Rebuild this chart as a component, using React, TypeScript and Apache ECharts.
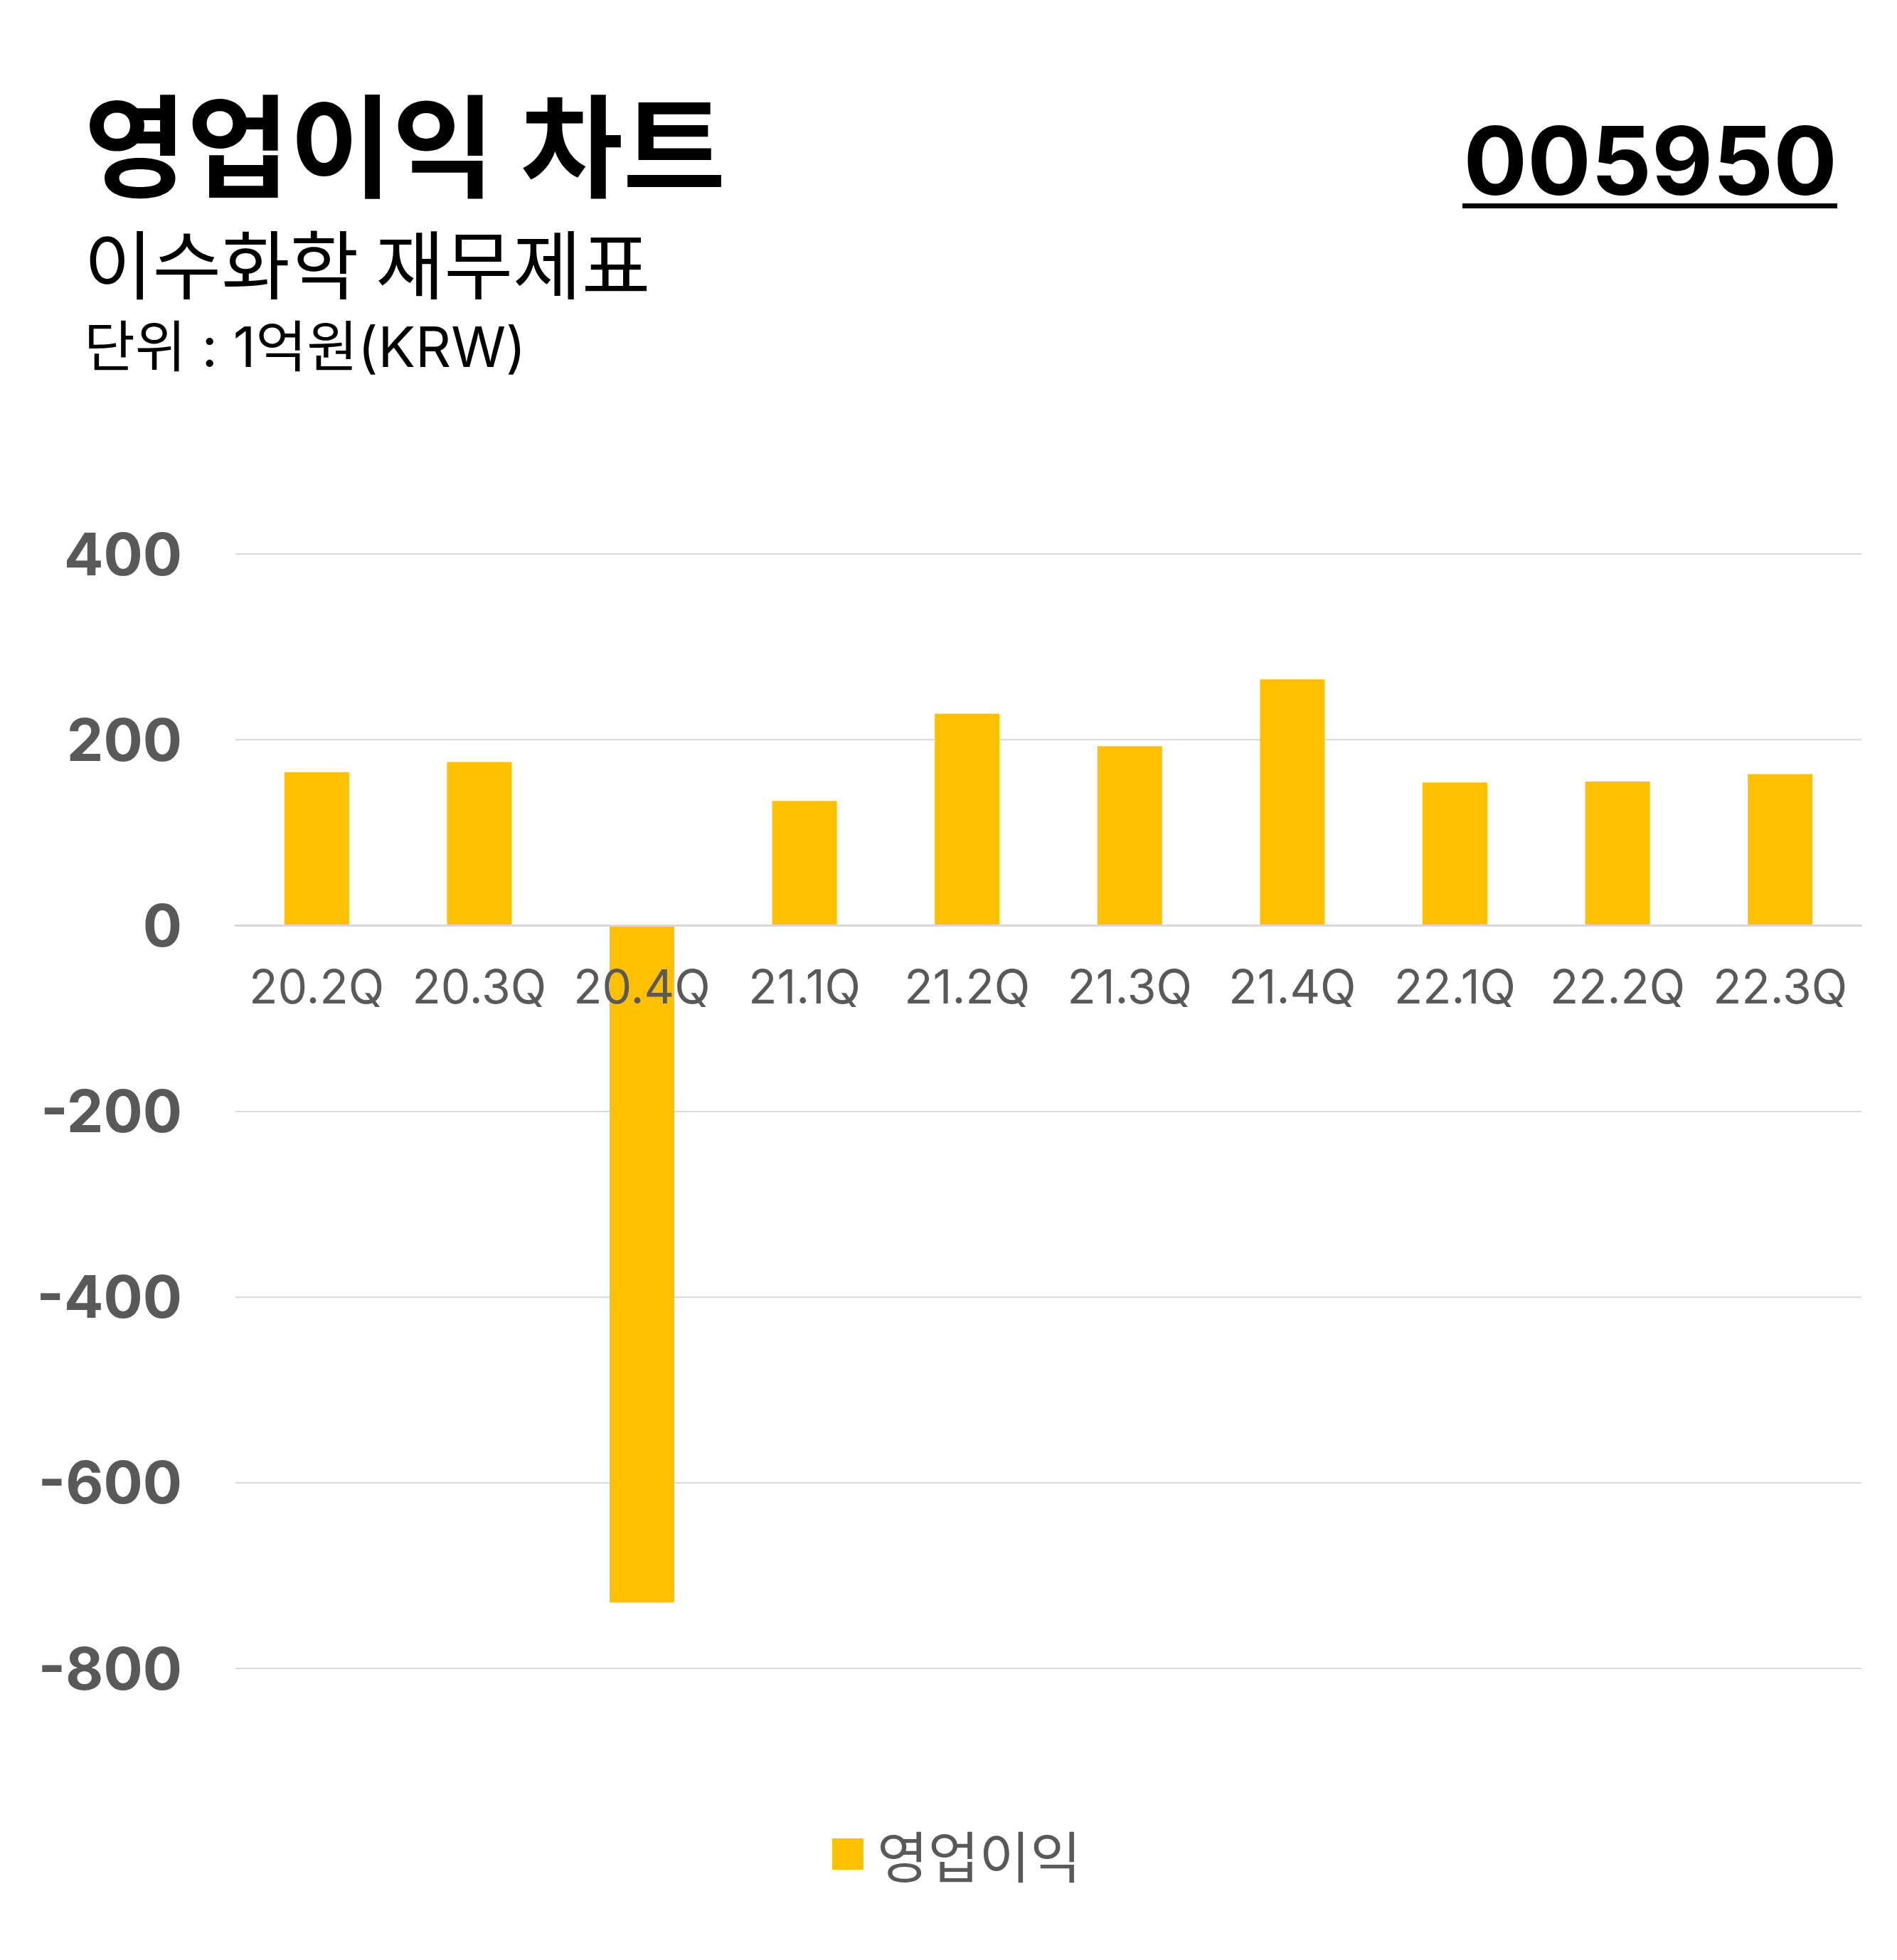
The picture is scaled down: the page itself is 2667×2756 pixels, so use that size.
import React, { useEffect, useRef } from "react";
import * as echarts from "echarts";

const categories = ["20.2Q", "20.3Q", "20.4Q", "21.1Q", "21.2Q", "21.3Q", "21.4Q", "22.1Q", "22.2Q", "22.3Q"];
const operatingProfit = [165, 176, -729, 134, 228, 193, 265, 154, 155, 163];
const seriesName = "영업이익";
const titleText = "영업이익 차트";
const subtitleText = "이수화학 재무제표";
const unitText = "단위 : 1억원(KRW)";
const codeText = "005950";
const yMin = -800;
const yMax = 400;
const yInterval = 200;

const W = 2667;
const H = 2756;
const GRID_TOP = 779;
const GRID_BOTTOM_Y = 2346;
const LATIN = "Inter, 'Noto Sans CJK KR', sans-serif";
const KR = "'Noto Sans CJK KR', sans-serif";

export default function App() {
  const ref = useRef<HTMLDivElement>(null);
  useEffect(() => {
    if (!ref.current) return;
    const chart = echarts.init(ref.current, undefined, { renderer: "svg" });
    const plotH = GRID_BOTTOM_Y - GRID_TOP;
    const zeroOffset = (plotH * (0 - yMin)) / (yMax - yMin);
    chart.setOption({
      animation: false,
      backgroundColor: "#ffffff",
      grid: { left: 331, right: 50, top: GRID_TOP, bottom: H - GRID_BOTTOM_Y, containLabel: false },
      legend: {
        data: [seriesName],
        left: 1165,
        top: 2563,
        icon: "rect",
        itemWidth: 44,
        itemHeight: 44,
        textStyle: { fontSize: 78, color: "#595959", fontFamily: KR, padding: [0, 0, 0, 14] },
      },
      xAxis: {
        type: "category",
        data: categories,
        position: "bottom",
        offset: -zeroOffset,
        z: 10,
        axisLine: { onZero: false, lineStyle: { color: "#d9d9d9", width: 3 } },
        axisTick: { show: false },
        axisLabel: { color: "#595959", fontSize: 66, fontFamily: LATIN, margin: 53, interval: 0 },
      },
      yAxis: {
        type: "value",
        min: yMin,
        max: yMax,
        interval: yInterval,
        axisLine: { show: false },
        axisTick: { show: false },
        axisLabel: { color: "#595959", fontSize: 82, fontWeight: "bold", fontFamily: LATIN, margin: 75 },
        splitLine: { lineStyle: { color: "#d9d9d9", width: 2 } },
      },
      series: [
        {
          name: seriesName,
          type: "bar",
          data: operatingProfit,
          barWidth: 91,
          itemStyle: { color: "#FFC000" },
        },
      ],
      graphic: [
        {
          type: "text",
          x: 118,
          y: 196,
          style: { text: titleText, fontSize: 157, lineHeight: 150, fontWeight: "bold", fontFamily: KR, fill: "#000", verticalAlign: "middle", align: "left" },
        },
        {
          type: "text",
          x: 118,
          y: 366,
          style: { text: subtitleText, fontSize: 105, lineHeight: 100, fontFamily: KR, fill: "#000", verticalAlign: "middle", align: "left" },
        },
        {
          type: "text",
          x: 118,
          y: 487,
          style: { text: unitText, fontSize: 78, lineHeight: 78, fontFamily: LATIN, fill: "#000", verticalAlign: "middle", align: "left" },
        },
        {
          type: "text",
          x: 2583,
          y: 225,
          style: { text: codeText, fontSize: 133, lineHeight: 133, fontWeight: "bold", fontFamily: LATIN, fill: "#000", verticalAlign: "middle", align: "right" },
        },
        {
          type: "rect",
          shape: { x: 2056, y: 286, width: 527, height: 7 },
          style: { fill: "#000" },
        },
      ],
    });
    return () => chart.dispose();
  }, []);
  return <div ref={ref} style={{ position: "absolute", left: 0, top: 0, width: W, height: H }} />;
}
